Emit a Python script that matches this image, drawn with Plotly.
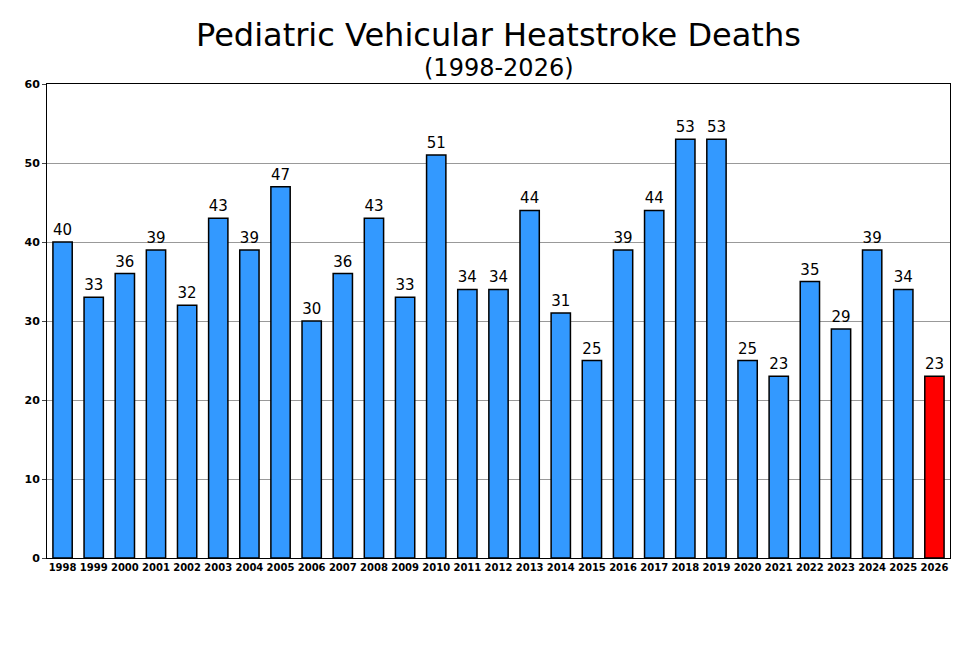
import plotly.graph_objects as go

years = [str(y) for y in range(1998, 2027)]
deaths = [40, 33, 36, 39, 32, 43, 39, 47, 30, 36, 43, 33, 51, 34, 34, 44, 31, 25,
          39, 44, 53, 53, 25, 23, 35, 29, 39, 34, 23]
colors = ["#3399FF"] * (len(years) - 1) + ["#FF0000"]

fig = go.Figure()
fig.add_trace(go.Bar(
    x=years, y=deaths, marker_color=colors,
    marker_line_color="black", marker_line_width=1.5,
    text=deaths, textposition="outside", cliponaxis=False,
    textfont=dict(family="DejaVu Sans", size=15, color="black"),
))
fig.add_annotation(text="Pediatric Vehicular Heatstroke Deaths", xref="paper", yref="paper",
                   x=0.5, y=1.103, yanchor="middle", showarrow=False,
                   font=dict(family="DejaVu Sans", size=32, color="black"))
fig.add_annotation(text="(1998-2026)", xref="paper", yref="paper",
                   x=0.5, y=1.034, yanchor="middle", showarrow=False,
                   font=dict(family="DejaVu Sans", size=24, color="black"))
fig.update_layout(
    width=980, height=647,
    paper_bgcolor="white", plot_bgcolor="white",
    margin=dict(l=39, r=38, t=76, b=97),
    bargap=0.38, showlegend=False,
    font=dict(family="DejaVu Sans", color="black"),
)
fig.update_xaxes(showline=True, linecolor="black", linewidth=1, mirror=True,
                 tickangle=0, ticks="", tickfont=dict(size=10, family="DejaVu Sans", weight="bold"))
fig.update_yaxes(range=[0, 60], dtick=10, showgrid=True, gridcolor="#999999",
                 showline=True, linecolor="black", linewidth=1, mirror=True,
                 ticks="outside", ticklen=4, tickfont=dict(size=11, weight="bold"))
fig.write_html("out.html")
